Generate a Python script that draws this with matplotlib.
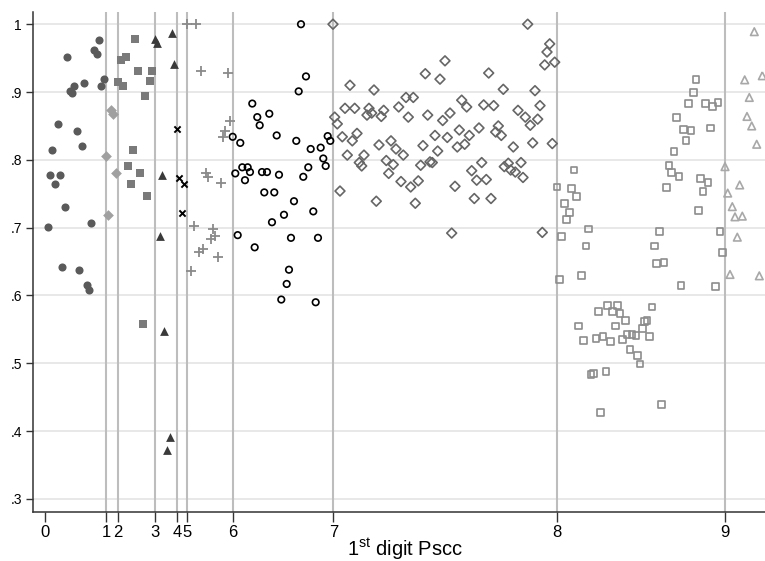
import matplotlib
matplotlib.use("Agg")
import matplotlib.pyplot as plt

plt.rcParams['font.family'] = ['Liberation Sans', 'DejaVu Sans']
plt.rcParams['mathtext.fontset'] = 'custom'
plt.rcParams['mathtext.rm'] = 'Liberation Sans'

# start position of each first-digit group on the x axis (tick labels 0..9)
digit_pos = [0, 61.3, 73.3, 110, 132, 141.7, 188, 288.3, 512, 680.3]
digit_labels = ['0', '1', '2', '3', '4', '5', '6', '7', '8', '9']

# digit 0: filled circles
g0_x = [54, 22.3, 49, 51.7, 59, 39, 29.3, 24.7, 27, 56, 12.7, 32, 7.3, 36.7,
        5, 14.7, 10, 19.7, 2.7, 46.3, 17.3, 34.3, 41.7, 44]
g0_y = [0.976, 0.952, 0.962, 0.956, 0.919, 0.914, 0.909, 0.902, 0.899, 0.909,
        0.853, 0.842, 0.814, 0.821, 0.778, 0.778, 0.764, 0.730, 0.701, 0.707,
        0.642, 0.638, 0.616, 0.608]

# digit 1: filled diamonds
g1_x = [65.7, 68.3, 61.3, 71, 63.3]
g1_y = [0.874, 0.868, 0.805, 0.780, 0.718]

# digit 2: filled squares
g2_x = [90.3, 75.7, 80.7, 92.7, 107.3, 73.3, 78.3, 105, 100, 88, 82.7, 95.3,
        85.7, 102.3, 98]
g2_y = [0.978, 0.947, 0.952, 0.931, 0.931, 0.915, 0.909, 0.916, 0.894, 0.814,
        0.791, 0.780, 0.765, 0.747, 0.558]

# digit 3: filled triangles
g3_x = [110, 111.7, 127, 129, 117.3, 114.7, 119.3, 124.7, 121.7]
g3_y = [0.978, 0.973, 0.987, 0.941, 0.777, 0.687, 0.548, 0.392, 0.372]

# digit 4: crosses
g4_x = [131.7, 134, 139, 136.7]
g4_y = [0.845, 0.773, 0.765, 0.721]

# digit 5: plus signs
g5_x = [142.3, 151.3, 156, 183, 185.3, 180, 177.7, 161.3, 163.3, 175.7, 148.7,
        168, 170.3, 166, 154.3, 158.3, 173.3, 146.3]
g5_y = [1.0, 1.0, 0.931, 0.928, 0.857, 0.843, 0.834, 0.780, 0.774, 0.766,
        0.703, 0.698, 0.688, 0.683, 0.664, 0.669, 0.657, 0.636]

# digit 6: hollow circles
g6_x = [256, 261, 253.7, 207.3, 212.3, 214.7, 224.3, 187.7, 195.3, 231.7,
        251.3, 265.7, 275.7, 282.7, 285.3, 278.3, 280.7, 263.3, 258.3, 190.3,
        197.3, 202.7, 205, 200, 217, 222, 234, 219.3, 229.3, 249, 268.3, 239,
        227, 192.7, 246, 273, 209.7, 244, 241.7, 236.3, 270.7]
g6_y = [1.0, 0.923, 0.901, 0.883, 0.863, 0.851, 0.868, 0.834, 0.825, 0.836,
        0.828, 0.816, 0.818, 0.835, 0.828, 0.802, 0.791, 0.789, 0.775, 0.780,
        0.789, 0.789, 0.782, 0.770, 0.782, 0.782, 0.778, 0.752, 0.752, 0.739,
        0.724, 0.719, 0.708, 0.689, 0.685, 0.685, 0.671, 0.638, 0.617, 0.594,
        0.590]

# digit 7: hollow diamonds
g7_x = [288, 305, 329, 300, 309.7, 289.7, 292.3, 324, 326.7, 322, 338.7, 336.3,
        353.7, 361, 368.3, 363.3, 297.3, 307.3, 312, 334, 346, 351, 358.3,
        302.3, 319, 314.3, 316.7, 341.3, 348.3, 343.7, 356, 365.7, 295, 331.3,
        370.3, 373.3, 375.7, 378, 380.3, 400, 395, 382.7, 405, 397.7, 390,
        402.3, 392.7, 385, 387.3, 414.3, 412.3, 419.7, 424.3, 434, 416.7,
        421.7, 410, 406.7, 426.7, 431.7, 436.7, 441.3, 429.3, 446, 443.7,
        438.7, 448.7, 458.3, 453.3, 450.7, 456.3, 468.3, 463.3, 459.3, 465.7,
        470.3, 476, 478, 473, 480.3, 485.3, 492.7, 490, 495, 487.7, 507.3,
        482.7, 504.7, 502, 499.7, 509.7, 497.3]
g7_y = [1.0, 0.910, 0.903, 0.876, 0.876, 0.863, 0.853, 0.876, 0.869, 0.866,
        0.873, 0.864, 0.878, 0.892, 0.892, 0.863, 0.834, 0.828, 0.839, 0.822,
        0.828, 0.816, 0.807, 0.807, 0.807, 0.796, 0.791, 0.799, 0.793, 0.780,
        0.768, 0.760, 0.754, 0.739, 0.736, 0.769, 0.792, 0.821, 0.927, 0.946,
        0.919, 0.866, 0.869, 0.858, 0.836, 0.833, 0.813, 0.797, 0.796, 0.844,
        0.819, 0.823, 0.836, 0.847, 0.888, 0.878, 0.761, 0.692, 0.784, 0.770,
        0.796, 0.771, 0.743, 0.743, 0.928, 0.881, 0.880, 0.904, 0.850, 0.841,
        0.836, 0.819, 0.795, 0.790, 0.785, 0.782, 0.796, 0.774, 0.873, 0.863,
        0.851, 0.860, 0.902, 0.880, 0.825, 0.824, 1.0, 0.971, 0.959, 0.940,
        0.944, 0.693]

# digit 8: hollow squares
g8_x = [651, 648.3, 643.7, 660.7, 667.7, 673, 631.3, 638.7, 646, 665.7, 641,
        629, 624, 626.7, 634, 621.7, 655.7, 663, 658, 529, 512, 526.7, 531.7,
        519.3, 524.3, 521.7, 543.7, 516.7, 541, 514.3, 536.3, 614.3, 609.3,
        611.7, 619, 636, 670.3, 675, 677.7, 653.3, 562.7, 572.7, 553.3, 567.7,
        575, 607, 580.3, 533.7, 570.3, 602, 599.3, 597.3, 538.3, 551, 558,
        565.3, 577.7, 582, 587, 591, 604.7, 585, 592.3, 595, 546, 548.3, 561,
        616.7, 555.7]
g8_y = [0.918, 0.900, 0.883, 0.883, 0.879, 0.885, 0.863, 0.845, 0.843, 0.847,
        0.829, 0.813, 0.791, 0.782, 0.775, 0.759, 0.773, 0.766, 0.753, 0.785,
        0.760, 0.758, 0.746, 0.736, 0.722, 0.712, 0.698, 0.687, 0.673, 0.624,
        0.630, 0.695, 0.673, 0.647, 0.649, 0.615, 0.613, 0.694, 0.664, 0.726,
        0.585, 0.585, 0.577, 0.577, 0.574, 0.583, 0.563, 0.555, 0.555, 0.563,
        0.561, 0.552, 0.534, 0.536, 0.539, 0.532, 0.535, 0.542, 0.542, 0.541,
        0.540, 0.521, 0.511, 0.499, 0.484, 0.485, 0.488, 0.439, 0.428]

# digit 9: hollow triangles
g9_x = [709.3, 699.7, 717.3, 704.3, 702, 706.7, 711.7, 680, 694.7, 682.7,
        687.3, 690, 697.3, 692.3, 685, 714.3]
g9_y = [0.989, 0.918, 0.924, 0.892, 0.864, 0.850, 0.823, 0.790, 0.763, 0.751,
        0.731, 0.716, 0.717, 0.686, 0.631, 0.629]

fig = plt.figure(figsize=(7.65, 5.61), dpi=100)
ax = fig.add_axes([0.0431, 0.0873, 0.9569, 0.8913])

ax.set_xlim(-12, 720)
ax.set_ylim(0.2807, 1.018)

yt = [0.3, 0.4, 0.5, 0.6, 0.7, 0.8, 0.9, 1.0]
for v in yt:
    ax.axhline(v, color='#e6e6e6', lw=1.3, zorder=0)
for p in digit_pos[1:]:
    ax.axvline(p, color='#bdbdbd', lw=1.5, zorder=1)

ax.scatter(g0_x, g0_y, marker='o', s=34, color='#5a5a5a', lw=0, zorder=3)
ax.scatter(g1_x, g1_y, marker='D', s=30, color='#a0a0a0', lw=0, zorder=3)
ax.scatter(g2_x, g2_y, marker='s', s=40, color='#7a7a7a', lw=0, zorder=3)
ax.scatter(g3_x, g3_y, marker='^', s=40, color='#3a3a3a', lw=0, zorder=3)
ax.scatter(g4_x, g4_y, marker='x', s=20, color='black', lw=1.4, zorder=3)
ax.scatter(g5_x, g5_y, marker='+', s=55, color='#8a8a8a', lw=1.3, zorder=3)
ax.scatter(g6_x, g6_y, marker='o', s=22, facecolors='none', edgecolors='black', lw=1.2, zorder=3)
ax.scatter(g7_x, g7_y, marker='D', s=25, facecolors='none', edgecolors='#666666', lw=1.2, zorder=3)
ax.scatter(g8_x, g8_y, marker='s', s=25, facecolors='none', edgecolors='#8c8c8c', lw=1.2, zorder=3)
ax.scatter(g9_x, g9_y, marker='^', s=30, facecolors='none', edgecolors='#a8a8a8', lw=1.2, zorder=3)

ax.set_xticks(digit_pos)
ax.set_xticklabels(digit_labels, fontsize=12)
ax.set_yticks(yt)
ax.set_yticklabels(['.3', '.4', '.5', '.6', '.7', '.8', '.9', '1'], fontsize=10)
ax.tick_params(axis='x', length=7, width=1, color='#333333', pad=2)
ax.tick_params(axis='y', length=5, width=1, color='#333333', pad=3)

for s in ['top', 'right']:
    ax.spines[s].set_visible(False)
for s in ['left', 'bottom']:
    ax.spines[s].set_color('#333333')
    ax.spines[s].set_linewidth(1.1)

fig.text(0.529, 1 - 556 / 561, '1$^{\\mathrm{st}}$ digit Pscc', fontsize=14.5,
         ha='center', va='baseline')

fig.savefig('out.png', dpi=100)
